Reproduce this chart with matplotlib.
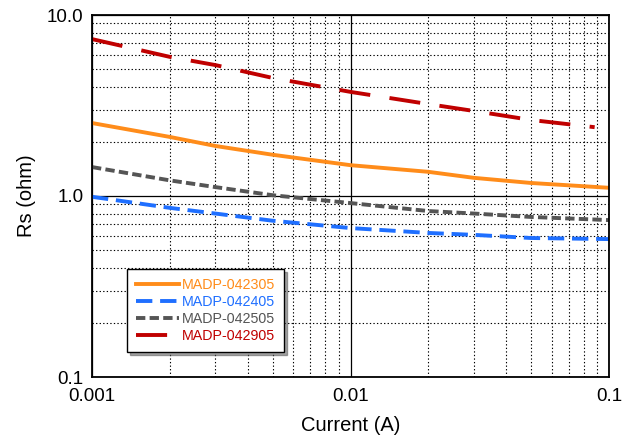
import numpy as np
import matplotlib.pyplot as plt
from matplotlib.ticker import FixedLocator, NullFormatter

plt.rcParams['font.family'] = ['Liberation Sans', 'DejaVu Sans']

# current (A)
current = [0.001, 0.002, 0.003, 0.005, 0.01, 0.02, 0.03, 0.05, 0.1]

rs_042305 = [2.53, 2.12, 1.89, 1.69, 1.48, 1.36, 1.26, 1.18, 1.11]
rs_042405 = [0.99, 0.86, 0.80, 0.73, 0.665, 0.625, 0.61, 0.586, 0.578]
rs_042505 = [1.445, 1.22, 1.12, 1.01, 0.914, 0.826, 0.80, 0.766, 0.736]
current_042905 = [0.001, 0.002, 0.003, 0.005, 0.01, 0.02, 0.03, 0.05, 0.088]
rs_042905 = [7.36, 5.87, 5.29, 4.49, 3.76, 3.22, 2.95, 2.63, 2.40]

names = ['MADP-042305', 'MADP-042405', 'MADP-042505', 'MADP-042905']
colors = ['#ff8c1a', '#1f6fff', '#555555', '#c00000']

fig = plt.figure(figsize=(6.35, 4.45), dpi=100)
ax = fig.add_axes([92/635, 1-377/445, (609-92)/635, (377-15)/445])

ax.plot(current, rs_042305, '-', color=colors[0], lw=2.8, label=names[0])
ax.plot(current, rs_042405, color=colors[1], lw=2.8, dashes=(4.2, 2.0), label=names[1])
ax.plot(current, rs_042505, color=colors[2], lw=2.8, dashes=(2.4, 1.1), label=names[2])
ax.plot(current_042905, rs_042905, color=colors[3], lw=2.8, dashes=(8, 5), label=names[3])

ax.set_xscale('log')
ax.set_yscale('log')
ax.set_xlim(0.001, 0.1)
ax.set_ylim(0.1, 10)

ax.xaxis.set_major_locator(FixedLocator([0.001, 0.01, 0.1]))
ax.yaxis.set_major_locator(FixedLocator([0.1, 1, 10]))
ax.set_xticklabels(['0.001', '0.01', '0.1'])
ax.set_yticklabels(['0.1', '1.0', '10.0'])
ax.xaxis.set_minor_formatter(NullFormatter())
ax.yaxis.set_minor_formatter(NullFormatter())
ax.tick_params(which='both', length=0, labelsize=13.5)
ax.tick_params(axis='x', pad=8)
ax.tick_params(axis='y', pad=6)

ax.grid(which='major', color='black', lw=0.9, ls='-')
ax.grid(which='minor', color='black', lw=0.8, ls=(0, (1.2, 2)))
ax.set_axisbelow(True)
for s in ax.spines.values():
    s.set_linewidth(1.3)
    s.set_color('black')

ax.set_xlabel('Current (A)', fontsize=14.5, labelpad=8)
ax.set_ylabel('Rs (ohm)', fontsize=14.5, labelpad=8)

leg = ax.legend(loc='lower left', bbox_to_anchor=((127-92)/517, (377-352)/362),
                fontsize=10.3, frameon=True, fancybox=False, shadow=True,
                handlelength=3.0, handletextpad=0.25, borderpad=0.6,
                labelspacing=0.22, borderaxespad=0)
leg.get_frame().set_edgecolor('black')
leg.get_frame().set_linewidth(1.0)
for t, c in zip(leg.get_texts(), colors):
    t.set_color(c)

fig.savefig('out.png', dpi=100)
